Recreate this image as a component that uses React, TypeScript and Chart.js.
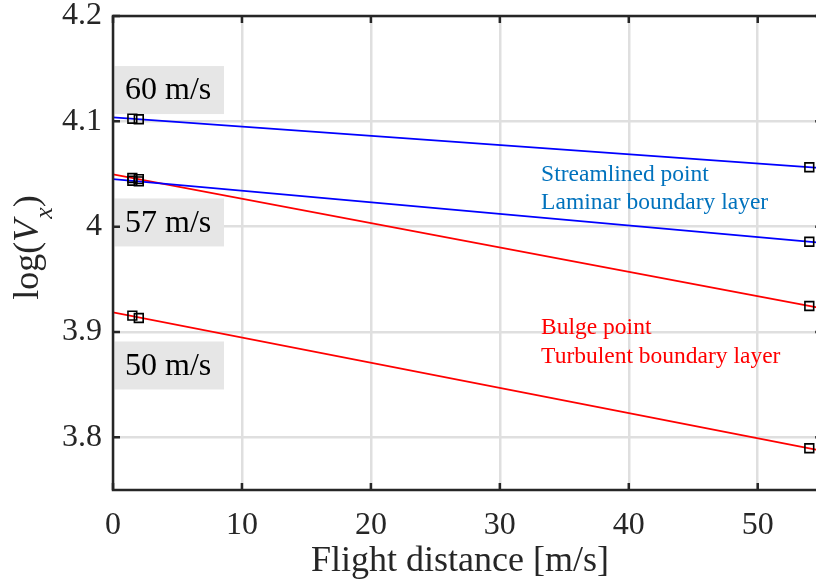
import React, { useEffect, useRef } from 'react';
import { Chart, registerables } from 'chart.js';

Chart.register(...registerables);

// ---- data ----
const lineX = [0, 55];
const markerX = [1.5, 2.0, 54];

const laminar60Line = [4.1038, 4.0555];
const laminar60Markers = [4.1025, 4.102, 4.0564];
const laminar57Line = [4.0452, 3.9846];
const laminar57Markers = [4.0436, 4.043, 3.9857];
const turbulent57Line = [4.0497, 3.9224];
const turbulent57Markers = [4.0462, 4.0451, 3.9247];
const turbulent50Line = [3.9187, 3.7872];
const turbulent50Markers = [3.9155, 3.9133, 3.7896];

const xTicks = [0, 10, 20, 30, 40, 50];
const yTicks = [3.8, 3.9, 4.0, 4.1, 4.2];

const speedLabels = ['60 m/s', '57 m/s', '50 m/s'];
const speedLabelValues = [4.1297, 4.004, 3.8682];

const laminarText = ['Streamlined point', 'Laminar boundary layer'];
const turbulentText = ['Bulge point', 'Turbulent boundary layer'];

const xTitle = 'Flight distance [m/s]';

// ---- styles ----
const BLUE = '#0000ff';
const RED = '#ff0000';
const TEXT_BLUE = '#0072BD';
const AXIS = '#262626';
const GRID = '#dfdfdf';
const FONT = '"Liberation Serif", "Times New Roman", serif';

const annotationPos = {
  laminar: { x: 33.2, y: [4.049, 4.0225] },
  turbulent: { x: 33.2, y: [3.9038, 3.8763] },
};

const pts = (xs: number[], ys: number[]) => xs.map((x, i) => ({ x, y: ys[i] }));

const lineDs = (label: string, ys: number[], color: string) => ({
  label,
  data: pts(lineX, ys),
  borderColor: color,
  backgroundColor: color,
  borderWidth: 1.8,
  showLine: true,
  pointRadius: 0,
  order: 2,
});

const markerDs = (label: string, ys: number[]) => ({
  label,
  data: pts(markerX, ys),
  borderColor: '#000000',
  backgroundColor: 'rgba(0,0,0,0)',
  borderWidth: 1.6,
  showLine: false,
  pointStyle: 'rect',
  pointRadius: 6.2,
  order: 1,
});

const decorPlugin = {
  id: 'decor',
  beforeDatasetsDraw(chart: any) {
    const { ctx, scales } = chart;
    const x = scales.x;
    const y = scales.y;
    ctx.save();
    const left = x.getPixelForValue(0);
    speedLabels.forEach((t, i) => {
      const cy = y.getPixelForValue(speedLabelValues[i]);
      ctx.fillStyle = '#e6e6e6';
      ctx.fillRect(left, cy - 24, 111, 48);
      ctx.fillStyle = '#000000';
      ctx.font = `32px ${FONT}`;
      ctx.textBaseline = 'middle';
      ctx.textAlign = 'left';
      ctx.fillText(t, left + 12, cy + 1);
    });
    ctx.restore();
  },
  afterDatasetsDraw(chart: any) {
    const { ctx, chartArea, scales } = chart;
    const x = scales.x;
    const y = scales.y;
    ctx.save();
    // annotations
    ctx.font = `23.5px ${FONT}`;
    ctx.textBaseline = 'middle';
    ctx.textAlign = 'left';
    ctx.fillStyle = TEXT_BLUE;
    laminarText.forEach((t, i) => {
      ctx.fillText(t, x.getPixelForValue(annotationPos.laminar.x), y.getPixelForValue(annotationPos.laminar.y[i]));
    });
    ctx.fillStyle = RED;
    turbulentText.forEach((t, i) => {
      ctx.fillText(t, x.getPixelForValue(annotationPos.turbulent.x), y.getPixelForValue(annotationPos.turbulent.y[i]));
    });

    // frame
    const { left, right, top, bottom } = chartArea;
    ctx.strokeStyle = AXIS;
    ctx.lineWidth = 2.5;
    ctx.beginPath();
    ctx.rect(left, top, right - left, bottom - top);
    ctx.stroke();
    // inner ticks
    const tl = 7;
    ctx.beginPath();
    xTicks.forEach((v) => {
      const px = x.getPixelForValue(v);
      ctx.moveTo(px, bottom);
      ctx.lineTo(px, bottom - tl);
      ctx.moveTo(px, top);
      ctx.lineTo(px, top + tl);
    });
    yTicks.forEach((v) => {
      const py = y.getPixelForValue(v);
      ctx.moveTo(left, py);
      ctx.lineTo(left + tl, py);
      ctx.moveTo(right, py);
      ctx.lineTo(right - tl, py);
    });
    ctx.stroke();
    ctx.restore();
  },
  afterDraw(chart: any) {
    const { ctx, chartArea } = chart;
    ctx.save();
    ctx.fillStyle = AXIS;
    // x title
    ctx.font = `36px ${FONT}`;
    ctx.textAlign = 'center';
    ctx.textBaseline = 'alphabetic';
    ctx.fillText(xTitle, 460, 571);

    // y title: log(V_x)
    ctx.translate(38, chartArea.top + 232);
    ctx.rotate(-Math.PI / 2);
    ctx.textAlign = 'left';
    const mainFont = `36px ${FONT}`;
    const italFont = `italic 36px ${FONT}`;
    const subFont = `italic 26px ${FONT}`;
    const parts: [string, string, number][] = [
      ['log(', mainFont, 0],
      ['V', italFont, 0],
      ['x', subFont, 14],
      [')', mainFont, 0],
    ];
    let total = 0;
    parts.forEach(([t, f]) => {
      ctx.font = f;
      total += ctx.measureText(t).width;
    });
    let cx = -total / 2;
    parts.forEach(([t, f, dy]) => {
      ctx.font = f;
      ctx.fillText(t, cx, dy);
      cx += ctx.measureText(t).width + (t === 'V' ? 1 : 0);
    });
    ctx.restore();
  },
};

export default function App() {
  const ref = useRef<HTMLCanvasElement | null>(null);

  useEffect(() => {
    if (!ref.current) return;
    const chart = new Chart(ref.current, {
      type: 'scatter',
      data: {
        datasets: [
          lineDs('Streamlined 60 m/s', laminar60Line, BLUE),
          lineDs('Streamlined 57 m/s', laminar57Line, BLUE),
          lineDs('Bulge 57 m/s', turbulent57Line, RED),
          lineDs('Bulge 50 m/s', turbulent50Line, RED),
          markerDs('m60', laminar60Markers),
          markerDs('m57a', laminar57Markers),
          markerDs('m57b', turbulent57Markers),
          markerDs('m50', turbulent50Markers),
        ] as any,
      },
      options: {
        animation: false,
        responsive: false,
        devicePixelRatio: 1,
        layout: { padding: { left: 0, top: 16, right: 7, bottom: 0 } },
        plugins: {
          legend: { display: false },
          tooltip: { enabled: false },
        },
        scales: {
          x: {
            type: 'linear',
            min: 0,
            max: 55,
            afterBuildTicks: (s: any) => {
              s.ticks = xTicks.map((v) => ({ value: v }));
            },
            afterFit: (s: any) => {
              s.height = 91;
              s.paddingLeft = 0;
              s.paddingRight = 0;
            },
            grid: { color: GRID, lineWidth: 2.5, drawTicks: false },
            border: { display: false },
            ticks: {
              padding: 16,
              color: AXIS,
              font: { family: FONT, size: 32 },
              maxRotation: 0,
              callback: (v: any) => String(v),
            },
          },
          y: {
            type: 'linear',
            min: 3.75,
            max: 4.2,
            afterBuildTicks: (s: any) => {
              s.ticks = yTicks.map((v) => ({ value: v }));
            },
            afterFit: (s: any) => {
              s.width = 113;
              s.paddingTop = 0;
              s.paddingBottom = 0;
            },
            grid: { color: GRID, lineWidth: 2.5, drawTicks: false },
            border: { display: false },
            ticks: {
              padding: 11,
              color: AXIS,
              font: { family: FONT, size: 32 },
              callback: (v: any) => String(+Number(v).toFixed(1)),
            },
          },
        },
      },
      plugins: [decorPlugin],
    });
    return () => chart.destroy();
  }, []);

  return (
    <div style={{ position: 'fixed', left: 0, top: 0, width: '100vw', height: '100vh', overflow: 'hidden', background: '#fff' }}>
      <canvas ref={ref} width={830} height={581} style={{ display: 'block', width: 830, height: 581 }} />
    </div>
  );
}
